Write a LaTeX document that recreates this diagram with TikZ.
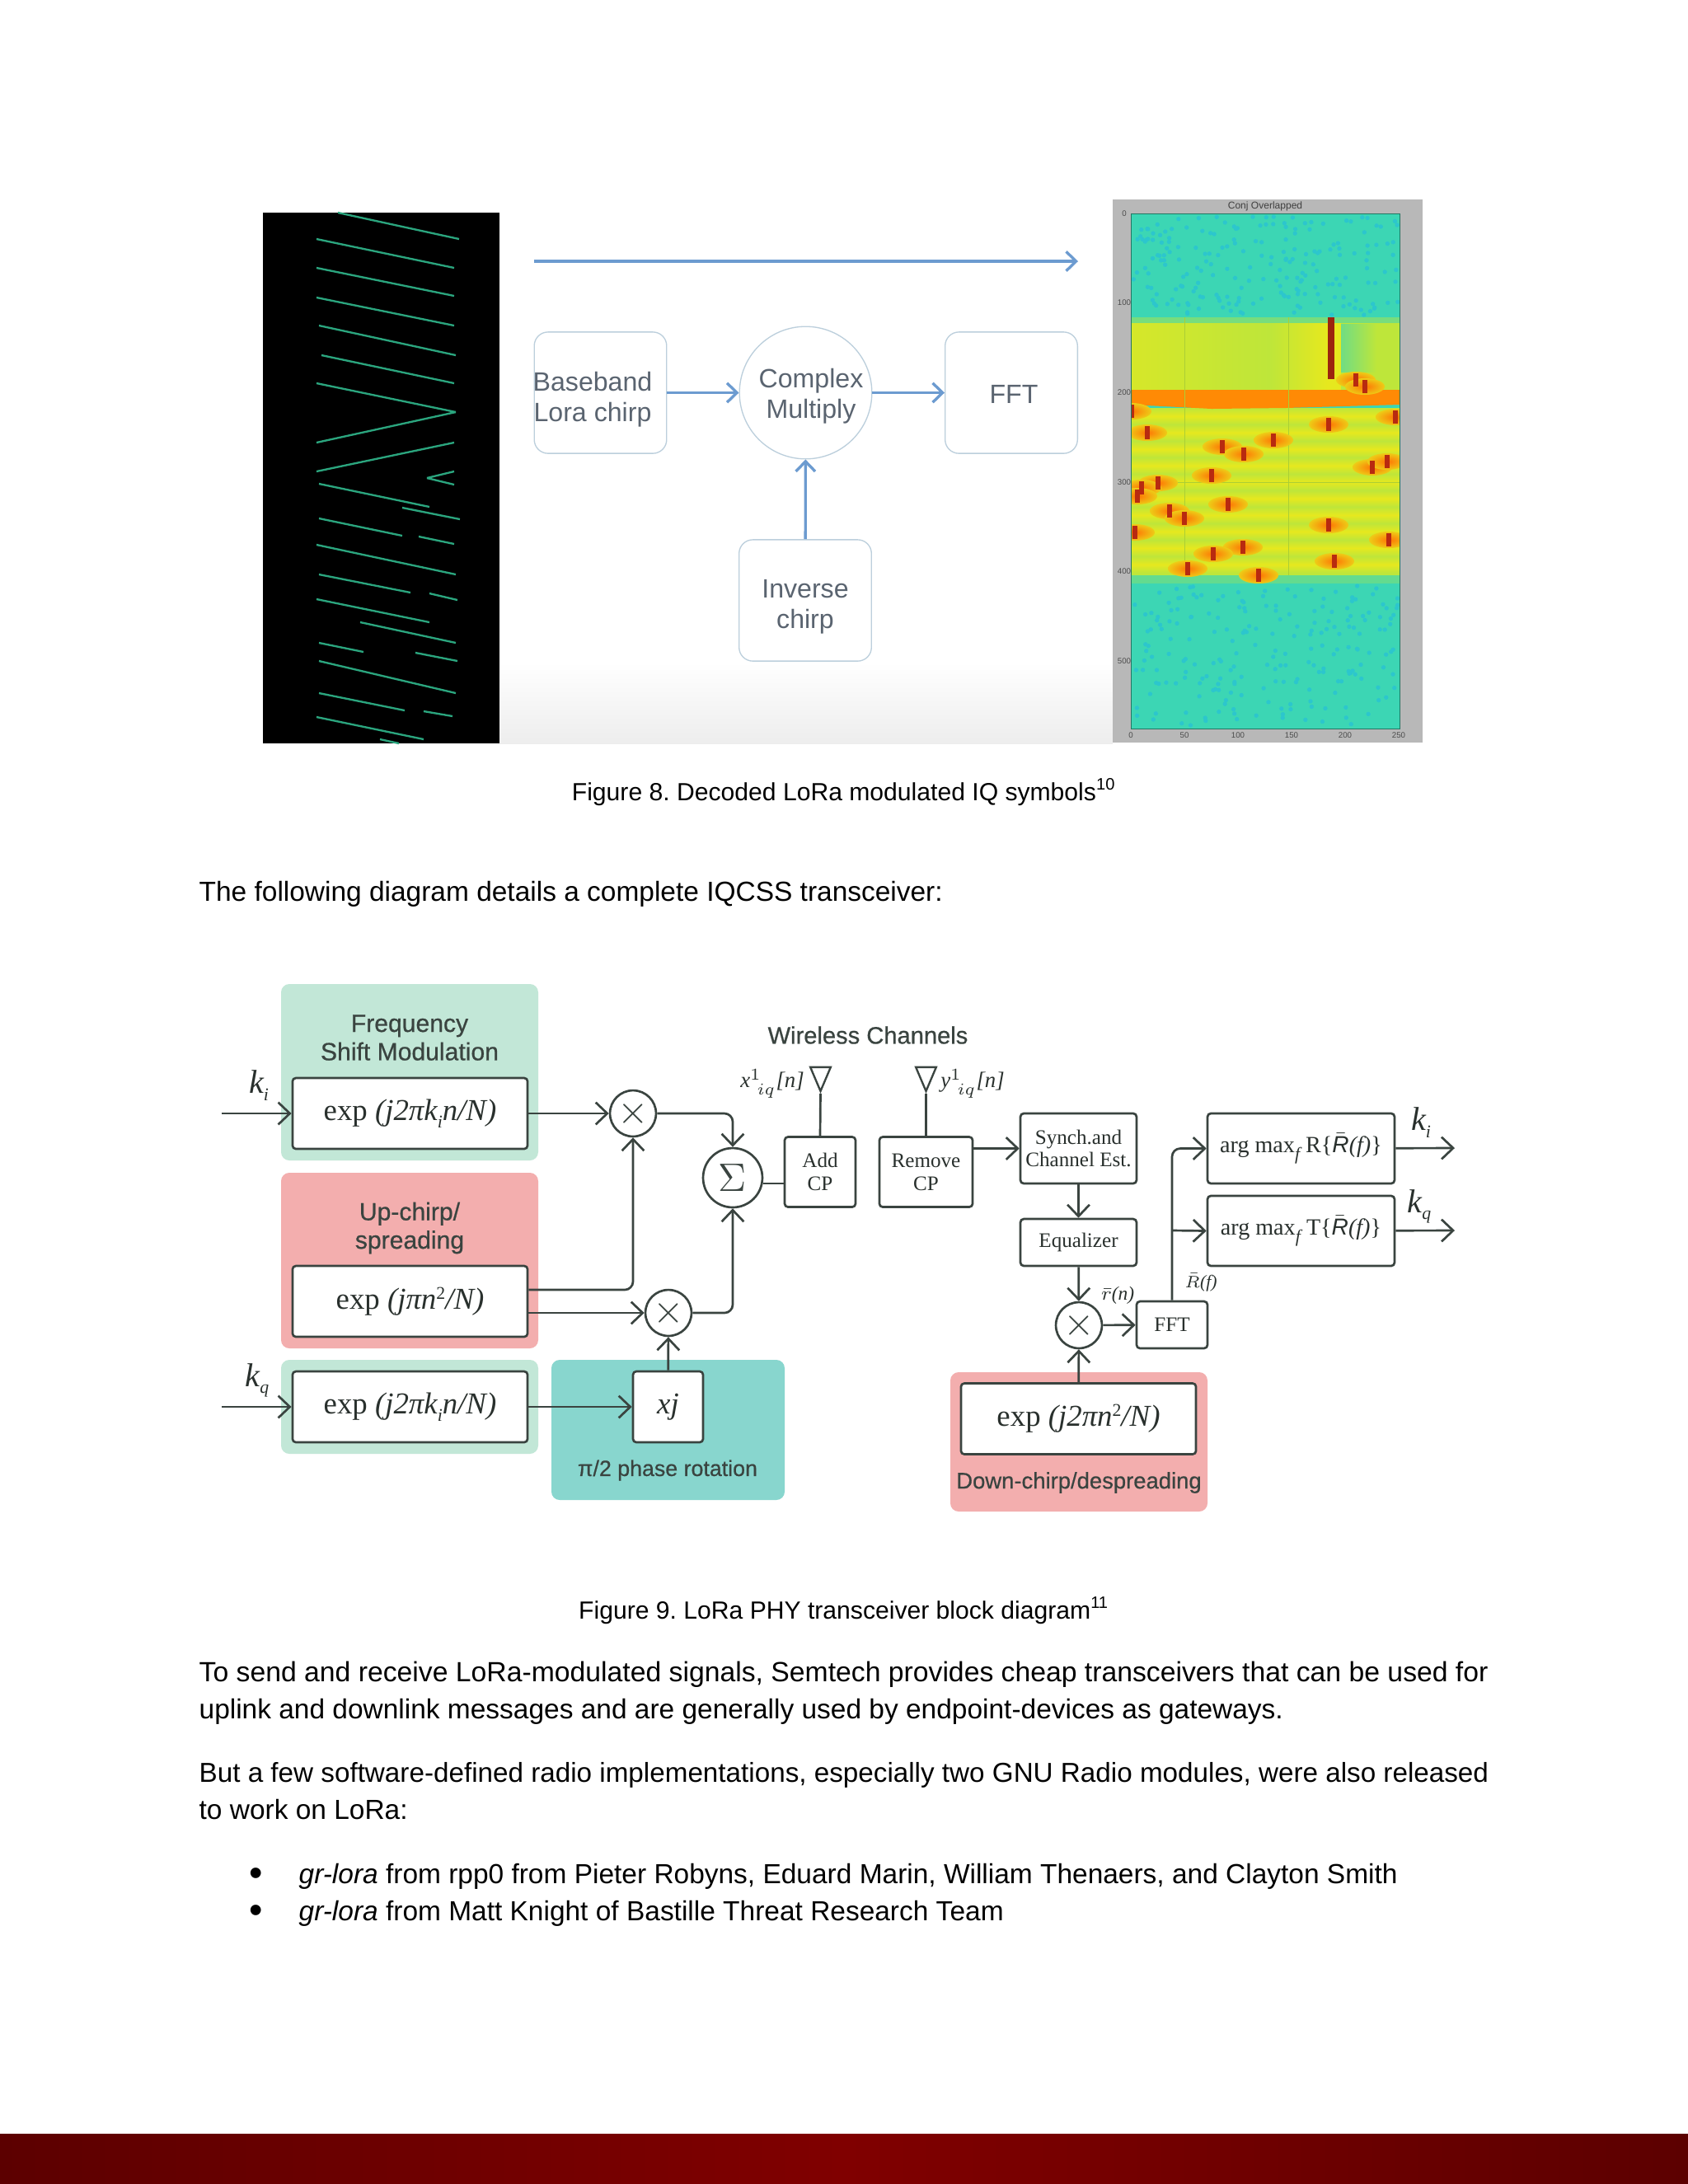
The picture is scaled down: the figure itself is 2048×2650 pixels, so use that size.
\documentclass[tikz,border=0pt]{standalone}
\usepackage{fontspec}
\setmainfont{Liberation Sans}
\newfontfamily\serifbox{Liberation Serif}
\newfontfamily\medsans[BoldFont={Liberation Sans},BoldFeatures={FakeBold=0.6}]{Liberation Sans}
\usetikzlibrary{arrows.meta,positioning,calc,shapes.geometric}
\definecolor{inkdark}{HTML}{3A4440}
\definecolor{mintfill}{HTML}{C2E7D7}
\definecolor{rosefill}{HTML}{F3AEAE}
\definecolor{tealfill}{HTML}{88D6CE}
\definecolor{chirpblue}{HTML}{6C9BD0}
\definecolor{chirpgrey}{HTML}{BCCFDC}
\definecolor{chirpink}{HTML}{5A6470}
\definecolor{chirpgreen}{HTML}{2BA57E}
\definecolor{hotred}{HTML}{B82A10}
\definecolor{hotorange}{HTML}{FF8A05}
\definecolor{plotteal}{HTML}{3CD6B4}
\definecolor{plotblue}{HTML}{25BFD8}
\definecolor{plotlime}{HTML}{BEE63A}
\definecolor{plotyellow}{HTML}{E6E81E}
\definecolor{footdark}{HTML}{5C0000}
\definecolor{footred}{HTML}{800000}
\newcommand{\lowsub}[1]{\raisebox{-2.6pt}{\fontsize{6.5}{6.5}\selectfont #1}}
\newcommand{\smallsup}[1]{\raisebox{3.6pt}{\fontsize{6.5}{6.5}\selectfont\upshape #1}}
\newcommand{\rbar}{$\bar{\mathit{R}}$}
\frenchspacing
\tikzset{
  wirebox/.style={draw=inkdark,line width=0.8pt,rounded corners=1.2pt,fill=white,inner sep=0pt,align=center,text=inkdark!70!black,font=\serifbox},
  panel/.style={rounded corners=3pt,draw=none},
  mixer/.style={circle,draw=inkdark,line width=0.8pt,fill=white,minimum size=16.7pt,inner sep=0pt,text=inkdark},
  wire/.style={draw=inkdark,line width=0.8pt,rounded corners=3pt},
  feed/.style={wire,-{Straight Barb[length=4.2pt,width=8pt]}},
  softbox/.style={draw=chirpgrey,line width=0.4pt,rounded corners=5pt,fill=white,align=center,text=chirpink},
  softtext/.style={inner sep=0pt,align=center,text=chirpink,font=\fontsize{9.6}{11}\selectfont},
  softarrow/.style={draw=chirpblue,line width=1pt,-{Straight Barb[length=3.6pt,width=7pt]}},
  chirp/.style={draw=chirpgreen,line width=0.7pt},
  bodyline/.style={anchor=base west,inner sep=0pt,font=\fontsize{10}{12}\selectfont},
  caption/.style={inner sep=0pt,font=\fontsize{9}{11}\selectfont},
  panellabel/.style={inner sep=0pt,align=center,text=inkdark,font=\medsans\bfseries\fontsize{9}{10.3}\selectfont},
  bigexp/.style={wirebox,minimum width=85.2pt,minimum height=25.7pt,font=\serifbox\fontsize{11}{13}\selectfont},
  smalltag/.style={wirebox,font=\serifbox\fontsize{7.5}{8.3}\selectfont},
  argbox/.style={wirebox,minimum width=67.8pt,minimum height=25.4pt,font=\serifbox\fontsize{8.4}{10}\selectfont},
  antenna/.style={isosceles triangle,isosceles triangle apex angle=46,shape border rotate=-90,draw=inkdark,line width=0.7pt,minimum height=8.7pt,inner sep=0pt},
  siglabel/.style={inner sep=0pt,text=inkdark!70!black,font=\serifbox\fontsize{12}{13}\selectfont\itshape},
  ticklabel/.style={inner sep=0pt,text=black!70,font=\fontsize{2.9}{3}\selectfont}
}
\begin{document}
\begin{tikzpicture}[x=0.2988pt,y=-0.2988pt]
\useasboundingbox (0,0) rectangle (2048,2650);
\fill[white] (0,0) rectangle (2048,2650);
% footer
\shade[left color=footdark,right color=footdark,middle color=footred] (0,2589) rectangle (2048,2650);
% figure 8
\shade[top color=white,bottom color=black!7] (606,804) rectangle (1350,902);
\fill[black] (319,258) rectangle (606,902);
\foreach \a/\b/\c/\d in {410/258/557/290,384/290/551/325,384/325/551/359,384/361/551/395,387/395/553/431,390/431/551/465,384/465/553/500,553/500/384/537,384/572/551/537,518/580/551/572,518/580/551/588,387/587/521/615,488/616/558/630,387/629/488/650,508/651/551/660,384/661/553/697,387/697/498/719,521/720/555/728,384/727/521/755,437/755/553/780,387/780/441/791,504/792/555/802,387/802/553/841,387/841/491/862,514/863/549/869,384/870/514/897,461/897/484/902}
  \draw[chirp] (\a,\b) -- (\c,\d);
\coordinate (sweepstart) at (648,317);
\coordinate (sweepend) at (1308,317);
\draw[softarrow] (sweepstart) -- (sweepend);
\node[softbox,minimum width=48pt,minimum height=44pt] (baseband) at (728.5,476.5) {};
\node[softbox,minimum width=48pt,minimum height=44pt] (fftsoft) at (1227,476.5) {};
\node[softbox,minimum width=48pt,minimum height=44pt] (inverse) at (977,728.5) {};
\node[circle,draw=chirpgrey,line width=0.4pt,minimum size=48pt,inner sep=0pt] (complex) at (977.5,476.5) {};
\node[softtext] (basebandtext) at (719,485) {Baseband\\Lora chirp};
\node[softtext] (complextext) at (984,481) {Complex\\Multiply};
\node[softtext] (ffttext) at (1230,478) {FFT};
\node[softtext] (inversetext) at (977,736) {Inverse\\chirp};
\draw[softarrow] (baseband) -- (complex);
\draw[softarrow] (complex) -- (fftsoft);
\draw[softarrow] (inverse) -- (complex);
% heat map
\fill[black!28] (1350,242) rectangle (1726,901);
\fill[plotteal] (1372,259) rectangle (1698,884);
\pgfmathsetseed{8}
\foreach \i in {1,...,420}{
  \pgfmathsetmacro{\px}{1374+322*rnd}
  \pgfmathsetmacro{\py}{rnd<0.42 ? 262+120*rnd : 710+172*rnd}
  \fill[plotblue!70!plotteal] (\px,\py) circle (0.8pt);
}
\begin{scope}
\clip (1372,259) rectangle (1698,884);
\shade[left color=plotyellow!60!plotlime,right color=plotlime] (1372,385) rectangle (1540,473);
\shade[left color=plotlime,right color=plotyellow] (1540,385) rectangle (1610,473);
\fill[plotyellow] (1610,385) rectangle (1627,473);
\fill[plotlime] (1627,385) rectangle (1698,473);
\shade[left color=plotteal!60!plotlime,right color=plotlime] (1627,393) rectangle (1670,451);
\fill[plotteal!55!plotlime] (1372,385) rectangle (1698,392);
\fill[hotred!85!black] (1611,385) rectangle (1619,460);
\foreach \y in {495,515,535,555,575,595,615,635,655,675}
  \shade[top color=plotlime,bottom color=plotlime,middle color=plotyellow] (1372,\y) rectangle (1698,\y+20);
\fill[plotlime] (1372,695) rectangle (1698,698);
\fill[hotorange] (1372,473) -- (1698,473) -- (1698,491) -- (1560,495) -- (1470,496) -- (1372,491) -- cycle;
\fill[plotteal!70!plotlime] (1372,698) rectangle (1698,708);
\draw[plotlime!90!black,line width=0.15pt] (1437,385) -- (1437,698) (1563,385) -- (1563,698) (1372,585) -- (1698,585);
\foreach \x/\y in {1392/525,1483/542,1509/551,1545/534,1612/515,1693/506,1665/567,1683/560,1470/577,1405/586,1385/592,1380/602,1490/612,1419/620,1437/629,1377/646,1612/637,1685/655,1508/664,1472/672,1619/681,1441/690,1527/698,1645/461,1656/469,1373/499}
  \shade[inner color=hotorange!85!red,outer color=plotyellow!70!hotorange] (\x,\y) ellipse (24 and 10);
\foreach \x/\y in {1392/525,1483/542,1509/551,1545/534,1612/515,1693/506,1665/567,1683/560,1470/577,1405/586,1385/592,1380/602,1490/612,1419/620,1437/629,1377/646,1612/637,1685/655,1508/664,1472/672,1619/681,1441/690,1527/698,1645/461,1656/469,1373/499}
  \fill[hotred] (\x-3,\y-8) rectangle (\x+3,\y+8);
\end{scope}
\draw[plotteal!55!black,line width=0.3pt] (1372,259) rectangle (1698,884);
\node[inner sep=0pt,text=black!75,font=\fontsize{3.6}{4}\selectfont] (plottitle) at (1535,250) {Conj Overlapped};
\foreach \y/\l in {259/0,367/100,476/200,585/300,693/400,802/500}
  \node[ticklabel] (ytick\l) at (1364,\y) {\l};
\foreach \x/\l in {1372/0,1437/50,1502/100,1567/150,1632/200,1697/250}
  \node[ticklabel] (xtick\l) at (\x,892) {\l};
\node[caption] (capeight) at (1024,961) {Figure 8. Decoded LoRa modulated IQ symbols\textsuperscript{10}};
\node[bodyline] (intro) at (241,1093) {The following diagram details a complete IQCSS transceiver:};
% figure 9 panels
\fill[panel,mintfill] (341,1194) rectangle (653,1408);
\fill[panel,rosefill] (341,1423) rectangle (653,1636);
\fill[panel,mintfill] (341,1650) rectangle (653,1764);
\fill[panel,tealfill] (669,1650) rectangle (952,1820);
\fill[panel,rosefill] (1153,1665) rectangle (1465,1834);
\node[panellabel] (freqlabel) at (497,1259) {Frequency\\Shift Modulation};
\node[panellabel] (uplabel) at (497,1490) {Up-chirp/\\spreading};
\node[panellabel,font=\medsans\bfseries\fontsize{8}{10}\selectfont] (rotlabel) at (810,1784) {π/2 phase rotation};
\node[panellabel,font=\medsans\bfseries\fontsize{8.2}{10}\selectfont] (downlabel) at (1309,1799) {Down-chirp/despreading};
\node[panellabel,font=\medsans\bfseries\fontsize{8.7}{10}\selectfont] (channels) at (1053,1256) {Wireless Channels};
% figure 9 blocks
\node[bigexp] (fskone) at (497.5,1351) {exp \textit{(j2πk\lowsub{i}n/N)}};
\node[bigexp] (upchirp) at (497.5,1579) {exp \textit{(jπn\smallsup{2}/N)}};
\node[bigexp] (fsktwo) at (497.5,1707) {exp \textit{(j2πk\lowsub{i}n/N)}};
\node[bigexp,minimum width=25.4pt,font=\serifbox\fontsize{11}{13}\selectfont\itshape] (rotate) at (810.5,1707) {xj};
\node[mixer] (mixa) at (768,1351) {\Large$\times$};
\node[mixer] (mixb) at (811,1593) {\Large$\times$};
\node[mixer,minimum size=21.5pt] (adder) at (889,1429) {\Large$\Sigma$};
\node[smalltag,minimum width=25.7pt,minimum height=25.4pt] (addcp) at (995,1422) {Add\\CP};
\node[smalltag,minimum width=33.8pt,minimum height=25.4pt] (remcp) at (1123.5,1422) {Remove\\CP};
\node[smalltag,minimum width=42.1pt,minimum height=25.4pt] (synch) at (1308.5,1393.5) {Synch.and\\Channel Est.};
\node[smalltag,minimum width=42.1pt,minimum height=17pt] (equal) at (1308.5,1507.5) {Equalizer};
\node[mixer] (mixc) at (1309,1608) {\Large$\times$};
\node[smalltag,minimum width=25.7pt,minimum height=17pt] (fft) at (1422,1607.5) {FFT};
\node[bigexp] (despread) at (1308.5,1721.5) {exp \textit{(j2πn\smallsup{2}/N)}};
\node[argbox] (argre) at (1578.5,1393.5) {arg max\lowsub{\textit{f}}\,R\{\rbar\textit{(f)}\}};
\node[argbox] (argim) at (1578.5,1493.5) {\raisebox{1.6pt}{arg max\lowsub{\textit{f}}\,T\{\rbar\textit{(f)}\}}};
% antennas
\node[antenna] (antx) at (995.5,1303) {};
\node[antenna] (anty) at (1123.5,1303) {};
\draw[wire] (antx.apex) -- (addcp.north);
\draw[wire] (anty.apex) -- (remcp.north);
% free ends
\coordinate (kiin) at (269,1351);
\coordinate (kqin) at (269,1707);
\coordinate (kiout) at (1765,1393);
\coordinate (kqout) at (1765,1493);
\coordinate (fftup) at (1423,1493);
% signal paths
\draw[feed] (kiin) -- (fskone);
\draw[feed] (kqin) -- (fsktwo);
\draw[feed] (fskone) -- (mixa);
\draw[feed] (upchirp.east|-0,1565) -| (mixa.south);
\draw[feed] (upchirp.east|-mixb) -- (mixb);
\draw[feed] (fsktwo) -- (rotate);
\draw[feed] (rotate) -- (mixb);
\draw[feed] (mixa) -| (adder.north);
\draw[feed] (mixb) -| (adder.south);
\draw[wire] (adder.east|-0,1436) -- (addcp.west|-0,1436);
\draw[feed] (remcp.east|-synch) -- (synch);
\draw[feed] (synch) -- (equal);
\draw[feed] (equal) -- (mixc);
\draw[feed] (despread) -- (mixc);
\draw[feed] (mixc) -- (fft);
\draw[feed] (fft.north) |- (argre.west);
\draw[feed] (fftup) -- (argim.west);
\draw[feed] (argre) -- (kiout);
\draw[feed] (argim) -- (kqout);
% signal labels
\node[siglabel] (kinlabel) at (314,1317) {k\lowsub{i}};
\node[siglabel] (kqnlabel) at (312,1675) {k\lowsub{q}};
\node[siglabel] (kioutlabel) at (1724,1362) {k\lowsub{i}};
\node[siglabel] (kqoutlabel) at (1722,1464) {k\lowsub{q}};
\node[inner sep=0pt,text=inkdark!70!black,font=\serifbox\fontsize{8}{9}\selectfont\itshape] (txlabel) at (937,1315) {x$^{1}_{\,\,iq}$[n]};
\node[inner sep=0pt,text=inkdark!70!black,font=\serifbox\fontsize{8}{9}\selectfont\itshape] (rxlabel) at (1180,1315) {y$^{1}_{\,\,iq}$[n]};
\node[inner sep=0pt,text=inkdark!70!black,font=\serifbox\fontsize{7}{8}\selectfont\itshape] (rnlabel) at (1356,1572) {$\bar{r}$(n)};
\node[inner sep=0pt,text=inkdark!70!black,font=\serifbox\fontsize{6.5}{7}\selectfont\itshape] (rflabel) at (1457,1556) {$\bar{R}$(f)};
% text below
\node[caption] (capnine) at (1024,1954) {Figure 9. LoRa PHY transceiver block diagram\textsuperscript{11}};
\node[bodyline,font=\fontsize{10.08}{12}\selectfont] (parone) at (241,2040) {To send and receive LoRa-modulated signals, Semtech provides cheap transceivers that can be used for};
\node[bodyline] (paronb) at (241,2085) {uplink and downlink messages and are generally used by endpoint-devices as gateways.};
\node[bodyline,font=\fontsize{9.93}{12}\selectfont] (partwo) at (241,2162) {But a few software-defined radio implementations, especially two GNU Radio modules, were also released};
\node[bodyline] (partwob) at (241,2207) {to work on LoRa:};
\node[bodyline,font=\fontsize{14}{14}\selectfont] (bulone) at (302,2288) {•};
\node[bodyline] (itemone) at (362,2285) {\textit{gr-lora} from rpp0 from Pieter Robyns, Eduard Marin, William Thenaers, and Clayton Smith};
\node[bodyline,font=\fontsize{14}{14}\selectfont] (bultwo) at (302,2333) {•};
\node[bodyline] (itemtwo) at (362,2330) {\textit{gr-lora} from Matt Knight of Bastille Threat Research Team};
\end{tikzpicture}
\end{document}
